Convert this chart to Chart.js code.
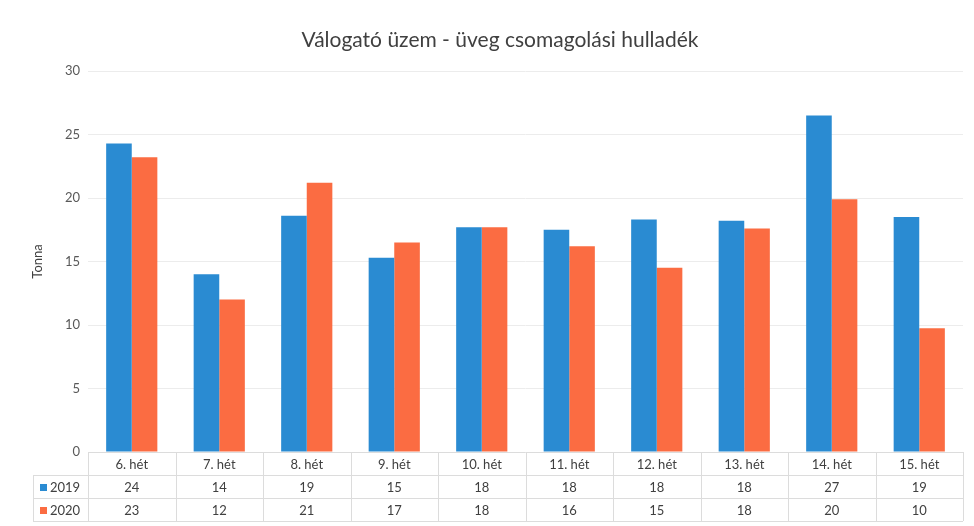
<!DOCTYPE html>
<html>
<head>
<meta charset="utf-8">
<script src="https://cdn.jsdelivr.net/npm/chart.js@4.4.1/dist/chart.umd.min.js"></script>
<style>
  html, body { margin: 0; padding: 0; background: #ffffff; }
  #wrap { width: 974px; height: 526px; position: relative; }
</style>
</head>
<body>
<div id="wrap"><canvas id="c" width="974" height="526"></canvas></div>
<script>
const categories = ["6. hét", "7. hét", "8. hét", "9. hét", "10. hét", "11. hét", "12. hét", "13. hét", "14. hét", "15. hét"];
const series2019 = [24.3, 14.0, 18.6, 15.3, 17.7, 17.5, 18.3, 18.2, 26.5, 18.5];
const series2020 = [23.2, 12.0, 21.2, 16.5, 17.7, 16.2, 14.5, 17.6, 19.9, 9.75];
const seriesNames = ["2019", "2020"];
const yTicks = [0, 5, 10, 15, 20, 25, 30];
const chartTitle = "Válogató üzem - üveg csomagolási hulladék";
const yTitle = "Tonna";

const BLUE = "#2a8bd2";
const ORANGE = "#fb6c42";
const FONT = "Lato, 'Open Sans', sans-serif";

const titlePlugin = {
  id: "customTitle",
  afterDraw(chart) {
    const ctx = chart.ctx;
    ctx.save();
    ctx.fillStyle = "#404040";
    ctx.font = "21px " + FONT;
    ctx.textAlign = "center";
    ctx.textBaseline = "middle";
    ctx.fillText(chartTitle, 500, 40);
    ctx.restore();
  }
};

const tablePlugin = {
  id: "dataTable",
  afterDraw(chart) {
    const ctx = chart.ctx;
    const x = chart.scales.x;
    const area = chart.chartArea;
    const top = area.bottom;
    const rowH = 23;
    const rows = [top, top + rowH, top + 2 * rowH, top + 3 * rowH];
    const leftLegend = 33;
    const n = categories.length;
    const half = (x.getPixelForValue(1) - x.getPixelForValue(0)) / 2;
    const xl = x.getPixelForValue(0) - half;
    const xr = x.getPixelForValue(n - 1) + half;
    ctx.save();
    ctx.strokeStyle = "#dcdcdc";
    ctx.lineWidth = 1;
    ctx.beginPath();
    ctx.moveTo(xl, rows[0] + 0.5); ctx.lineTo(xr, rows[0] + 0.5);
    for (let r = 1; r < 4; r++) { ctx.moveTo(leftLegend, rows[r] + 0.5); ctx.lineTo(xr, rows[r] + 0.5); }
    for (let i = 0; i <= n; i++) {
      const px = Math.round(xl + i * 2 * half) + 0.5;
      ctx.moveTo(px, rows[0]); ctx.lineTo(px, rows[3]);
    }
    ctx.moveTo(leftLegend + 0.5, rows[1]); ctx.lineTo(leftLegend + 0.5, rows[3]);
    ctx.stroke();

    ctx.fillStyle = "#404040";
    ctx.font = "13px " + FONT;
    ctx.textAlign = "center";
    ctx.textBaseline = "middle";
    const data = [series2019, series2020];
    for (let i = 0; i < n; i++) {
      const cx = x.getPixelForValue(i);
      ctx.fillText(categories[i], cx, rows[0] + rowH / 2 + 1);
      for (let s = 0; s < 2; s++) {
        ctx.fillText(String(Math.round(data[s][i])), cx, rows[s + 1] + rowH / 2 + 1);
      }
    }
    const colors = [BLUE, ORANGE];
    ctx.textAlign = "left";
    for (let s = 0; s < 2; s++) {
      const cy = rows[s + 1] + rowH / 2 + 1;
      ctx.fillStyle = colors[s];
      ctx.fillRect(40, cy - 3.5, 7, 7);
      ctx.fillStyle = "#404040";
      ctx.fillText(seriesNames[s], 50, cy);
    }
    ctx.restore();
  }
};

new Chart(document.getElementById("c"), {
  type: "bar",
  data: {
    labels: categories,
    datasets: [
      { label: seriesNames[0], data: series2019, backgroundColor: BLUE, barPercentage: 1.0, categoryPercentage: 0.585 },
      { label: seriesNames[1], data: series2020, backgroundColor: ORANGE, barPercentage: 1.0, categoryPercentage: 0.585 }
    ]
  },
  options: {
    responsive: false,
    animation: false,
    devicePixelRatio: 1,
    layout: { padding: { left: 0, right: 11, top: 71, bottom: 74 } },
    plugins: {
      legend: { display: false },
      tooltip: { enabled: false },
      title: { display: false }
    },
    scales: {
      x: { display: false },
      y: {
        min: 0, max: 30,
        afterBuildTicks(scale) { scale.ticks = yTicks.map(v => ({ value: v })); },
        afterFit(scale) { scale.width = 88; },
        ticks: { color: "#595959", font: { family: FONT, size: 13 }, padding: 8 },
        grid: { color: "#ececec", drawTicks: false },
        border: { display: false },
        title: { display: true, text: yTitle, color: "#404040", font: { family: FONT, size: 13 }, padding: { top: 30, bottom: 0 } }
      }
    }
  },
  plugins: [titlePlugin, tablePlugin]
});
</script>
</body>
</html>
